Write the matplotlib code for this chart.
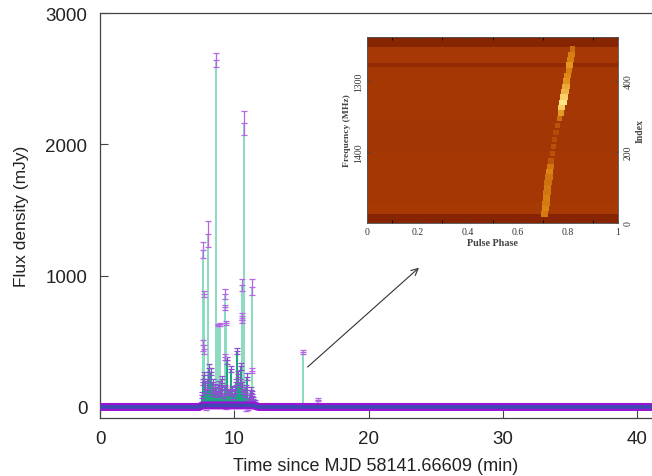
import matplotlib
matplotlib.use('Agg')
import matplotlib.pyplot as plt
from matplotlib.colors import LinearSegmentedColormap

plt.rcParams['font.family'] = ['Liberation Sans', 'DejaVu Sans']

# tall pulses: time (min), flux (mJy), error (mJy)
pulse_t = [7.7, 7.75, 7.7, 7.72, 8.05, 8.6, 8.8, 8.95, 9.3, 9.3, 9.35, 9.3, 10.55, 10.7, 10.55, 10.6, 11.3, 11.3, 15.15, 16.2]
pulse_f = [1195, 860, 470, 440, 1315, 2640, 625, 630, 860, 760, 640, 380, 930, 2160, 690, 660, 915, 275, 420, 55]
pulse_e = [60, 25, 40, 35, 98, 55, 10, 10, 40, 20, 15, 25, 48, 90, 25, 20, 62, 20, 15, 10]

# small pulses inside the burst
small_t = [7.6, 7.7, 7.75, 7.85, 7.95, 8.05, 8.15, 8.25, 8.35, 8.45, 8.55, 8.65, 8.7, 8.85, 8.95, 9.0, 9.1, 9.2, 9.3, 9.45, 9.55, 9.6, 9.75, 9.85, 9.9, 10.05, 10.15, 10.2, 10.3, 10.4, 10.5, 10.6, 10.65, 10.8, 10.9, 10.95, 11.1, 11.25, 11.3, 11.4, 11.55]
small_f = [90, 190, 240, 170, 130, 210, 300, 270, 110, 190, 150, 120, 95, 170, 100, 135, 210, 90, 150, 355, 110, 120, 290, 140, 80, 130, 190, 425, 250, 190, 310, 170, 120, 95, 150, 230, 70, 130, 100, 60, 35]
small_e = [25, 25, 30, 30, 25, 30, 30, 30, 25, 25, 25, 25, 20, 25, 20, 25, 25, 20, 20, 25, 20, 20, 25, 20, 20, 20, 20, 25, 25, 25, 25, 20, 20, 20, 20, 25, 20, 20, 20, 15, 15]

dip_t = [7.9, 9.4, 10.9, 11.0, 3.0, 26.5]
dip_f = [-25, -15, -30, -20, -12, -10]

# quiet baseline
base_t = [0, 7.4, 7.6, 11.4, 11.8, 41.1]
base_f = [0, 0, 12, 12, 0, 0]

# inset: background levels by index band
band_edges = [0, 25, 60, 200, 300, 440, 452, 497, 524]
band_level = [0.14, 0.33, 0.31, 0.30, 0.31, 0.20, 0.32, 0.14]

# inset: pulse track
track_idx = [25, 40, 55, 70, 85, 100, 115, 130, 145, 160, 175, 195, 215, 235, 255, 275, 295, 310, 325, 340, 355, 370, 385, 400, 415, 430, 445, 460, 475, 490]
track_phase = [0.708, 0.711, 0.713, 0.716, 0.718, 0.720, 0.722, 0.725, 0.728, 0.731, 0.734, 0.738, 0.743, 0.748, 0.753, 0.759, 0.766, 0.772, 0.776, 0.781, 0.785, 0.789, 0.792, 0.796, 0.800, 0.804, 0.808, 0.811, 0.814, 0.818]
track_width = [0.03, 0.03, 0.03, 0.03, 0.03, 0.03, 0.03, 0.03, 0.03, 0.03, 0.024, 0.02, 0.02, 0.02, 0.02, 0.02, 0.022, 0.026, 0.028, 0.03, 0.03, 0.03, 0.03, 0.028, 0.028, 0.026, 0.028, 0.026, 0.026, 0.022]
track_level = [0.60, 0.64, 0.60, 0.62, 0.58, 0.60, 0.56, 0.58, 0.64, 0.58, 0.46, 0.43, 0.43, 0.41, 0.41, 0.44, 0.55, 0.72, 0.90, 1.0, 0.92, 0.82, 0.78, 0.70, 0.66, 0.62, 0.70, 0.62, 0.62, 0.55]

purple = '#b566e6'
teal = '#8adcc0'

fig = plt.figure(figsize=(6.52, 4.77), dpi=100)
ax = fig.add_axes([100/652, (477-419)/477, 552/652, (419-14)/477])

ax.vlines(pulse_t, 0, pulse_f, color=teal, lw=1.4, zorder=2)
ax.vlines(small_t, 0, small_f, color='#1fa583', lw=1.5, zorder=3)
ax.errorbar(pulse_t, pulse_f, yerr=pulse_e, fmt='_', color=purple, ecolor=purple, ms=4.5, mew=0.9, elinewidth=0.9, capsize=2.2, capthick=0.9, zorder=4)
ax.errorbar(small_t, small_f, yerr=small_e, fmt='_', color='#8a50d0', ecolor='#8a50d0', ms=4.5, mew=0.9, elinewidth=0.9, capsize=2.2, capthick=0.9, zorder=4)
ax.plot(dip_t, dip_f, '_', color=purple, ms=5, mew=1, zorder=4)
ax.plot(base_t, base_f, color='#9a14d6', lw=5.8, solid_capstyle='butt', zorder=5)
ax.plot(base_t, base_f, color='#3d4bb0', lw=2.6, solid_capstyle='butt', zorder=6)

ax.set_xlim(0, 41.1)
ax.set_ylim(-84, 3000)
ax.set_xticks([0, 10, 20, 30, 40])
ax.set_yticks([0, 1000, 2000, 3000])
ax.tick_params(direction='in', length=6, width=0.8, labelsize=13.5, color='#444444', labelcolor='#222222', pad=9)
ax.set_xlabel('Time since MJD 58141.66609 (min)', fontsize=13, color='#222222', labelpad=7)
ax.set_ylabel('Flux density (mJy)', fontsize=12.5, color='#222222', labelpad=12)
ax.spines['right'].set_visible(False)
for s in ['left', 'bottom', 'top']:
    ax.spines[s].set_color('#444444')
    ax.spines[s].set_linewidth(0.9)

ax.annotate('', xy=(23.9, 1074), xytext=(15.3, 290),
            arrowprops=dict(arrowstyle='->', color='#333333', lw=0.8, mutation_scale=12))

# inset
cmap = LinearSegmentedColormap.from_list('burst', ['#701500', '#a83a04', '#e08a14', '#ffe680'])
ins = fig.add_axes([367/652, (477-224)/477, 251/652, 186/477])
ins.pcolormesh([0, 1], band_edges, [[v] for v in band_level], cmap=cmap, vmin=0, vmax=1)
ins.barh(track_idx, track_width, left=[p - w/2 for p, w in zip(track_phase, track_width)], height=15, align='center',
         color=[cmap(v) for v in track_level], linewidth=0)
ins.set_xlim(0, 1)
ins.set_ylim(0, 524)
ins.set_xticks([0, 0.2, 0.4, 0.6, 0.8, 1], labels=['0', '0.2', '0.4', '0.6', '0.8', '1'])
ins.set_xticks([0.1, 0.3, 0.5, 0.7, 0.9], minor=True)
ins.set_yticks([200, 400], labels=['1400', '1300'])
ins.tick_params(axis='both', labelsize=7, length=2.5, width=0.5, pad=3, labelcolor='#333333', color='#444444')
ins.tick_params(axis='x', top=True, which='both', direction='in', labelfontfamily='Liberation Serif')
ins.tick_params(axis='y', direction='in', labelrotation=90, labelfontfamily='Liberation Serif')
for t in ins.get_yticklabels():
    t.set_va('center')
ins.set_xlabel('Pulse Phase', fontsize=7.3, family='Liberation Serif', fontweight='bold', color='#444444', labelpad=1)
ins.set_ylabel('Frequency (MHz)', fontsize=6.8, family='Liberation Serif', fontweight='bold', color='#444444', labelpad=2)

ins2 = ins.twinx()
ins2.set_ylim(0, 524)
ins2.set_yticks([0, 200, 400])
ins2.tick_params(axis='y', labelsize=7, length=2.5, width=0.5, pad=4, direction='in', labelrotation=90,
                 labelfontfamily='Liberation Serif', labelcolor='#333333', color='#444444')
for t in ins2.get_yticklabels():
    t.set_va('center')
ins2.set_ylabel('Index', fontsize=7, family='Liberation Serif', fontweight='bold', color='#444444', labelpad=2)
for a in [ins, ins2]:
    for s in a.spines.values():
        s.set_linewidth(0.5)
        s.set_color('#555555')

fig.savefig('out.png', dpi=100)
